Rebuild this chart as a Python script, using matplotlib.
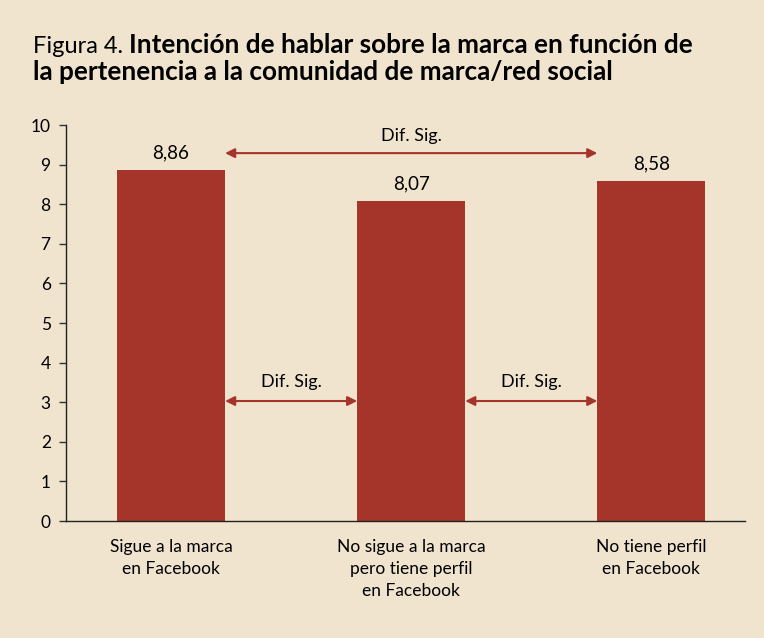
import matplotlib
matplotlib.use("Agg")
import matplotlib.pyplot as plt

categories = ["Sigue a la marca\nen Facebook",
              "No sigue a la marca\npero tiene perfil\nen Facebook",
              "No tiene perfil\nen Facebook"]
values = [8.86, 8.07, 8.58]
value_labels = ["8,86", "8,07", "8,58"]
yticks = [0, 1, 2, 3, 4, 5, 6, 7, 8, 9, 10]
sig_label = "Dif. Sig."

BG = "#F0E4CE"
BAR = "#A5352B"
FONT = "Lato"

plt.rcParams["font.family"] = [FONT, "DejaVu Sans"]

fig = plt.figure(figsize=(7.64, 6.38), dpi=100, facecolor=BG)
ax = fig.add_axes([66/764, 1-521/638, (745-66)/764, (521-125)/638])
ax.set_facecolor(BG)

x = list(range(len(categories)))
ax.bar(x, values, width=0.45, color=BAR, zorder=2)
ax.set_xlim(-0.4375, 2.39)
ax.set_ylim(0, 10)
ax.set_yticks(yticks)
ax.set_yticklabels([str(t) for t in yticks], fontsize=12.5)
ax.set_xticks(x)
ax.set_xticklabels(categories, fontsize=12.5, linespacing=1.45)
ax.tick_params(axis="x", length=0, pad=13)
ax.tick_params(axis="y", length=5, width=1, pad=6, color="#333333")
for s in ["top", "right"]:
    ax.spines[s].set_visible(False)
for s in ["left", "bottom"]:
    ax.spines[s].set_color("#222222")
    ax.spines[s].set_linewidth(1)

for xi, v, lab in zip(x, values, value_labels):
    ax.text(xi, v + 0.22, lab, ha="center", va="bottom", fontsize=13.5)

hw = 0.225
arrowprops = dict(arrowstyle="<|-|>", color=BAR, lw=1.5, mutation_scale=14,
                  shrinkA=0, shrinkB=0)
# top arrow between bar 0 and bar 2
ax.annotate("", xy=(x[0] + hw, 9.29), xytext=(x[2] - hw, 9.29), arrowprops=arrowprops)
ax.text((x[0] + x[2]) / 2, 9.52, sig_label, ha="center", va="bottom", fontsize=13)
# lower arrows
for a, b in [(0, 1), (1, 2)]:
    ax.annotate("", xy=(x[a] + hw, 3.03), xytext=(x[b] - hw, 3.03), arrowprops=arrowprops)
    ax.text((x[a] + x[b]) / 2, 3.3, sig_label, ha="center", va="bottom", fontsize=13)

# title with mixed weight
fig.canvas.draw()
r = fig.canvas.get_renderer()
t1 = fig.text(33/764, 1-53/638, "Figura 4.", fontsize=17, ha="left", va="baseline")
bb = t1.get_window_extent(renderer=r)
fig.text((bb.x1 + 6) / 764, 1-53/638,
         "Intención de hablar sobre la marca en función de",
         fontsize=18.8, fontweight="bold", ha="left", va="baseline")
fig.text(33/764, 1-80/638, "la pertenencia a la comunidad de marca/red social",
         fontsize=18.8, fontweight="bold", ha="left", va="baseline")

fig.savefig("out.png", dpi=100, facecolor=BG)
